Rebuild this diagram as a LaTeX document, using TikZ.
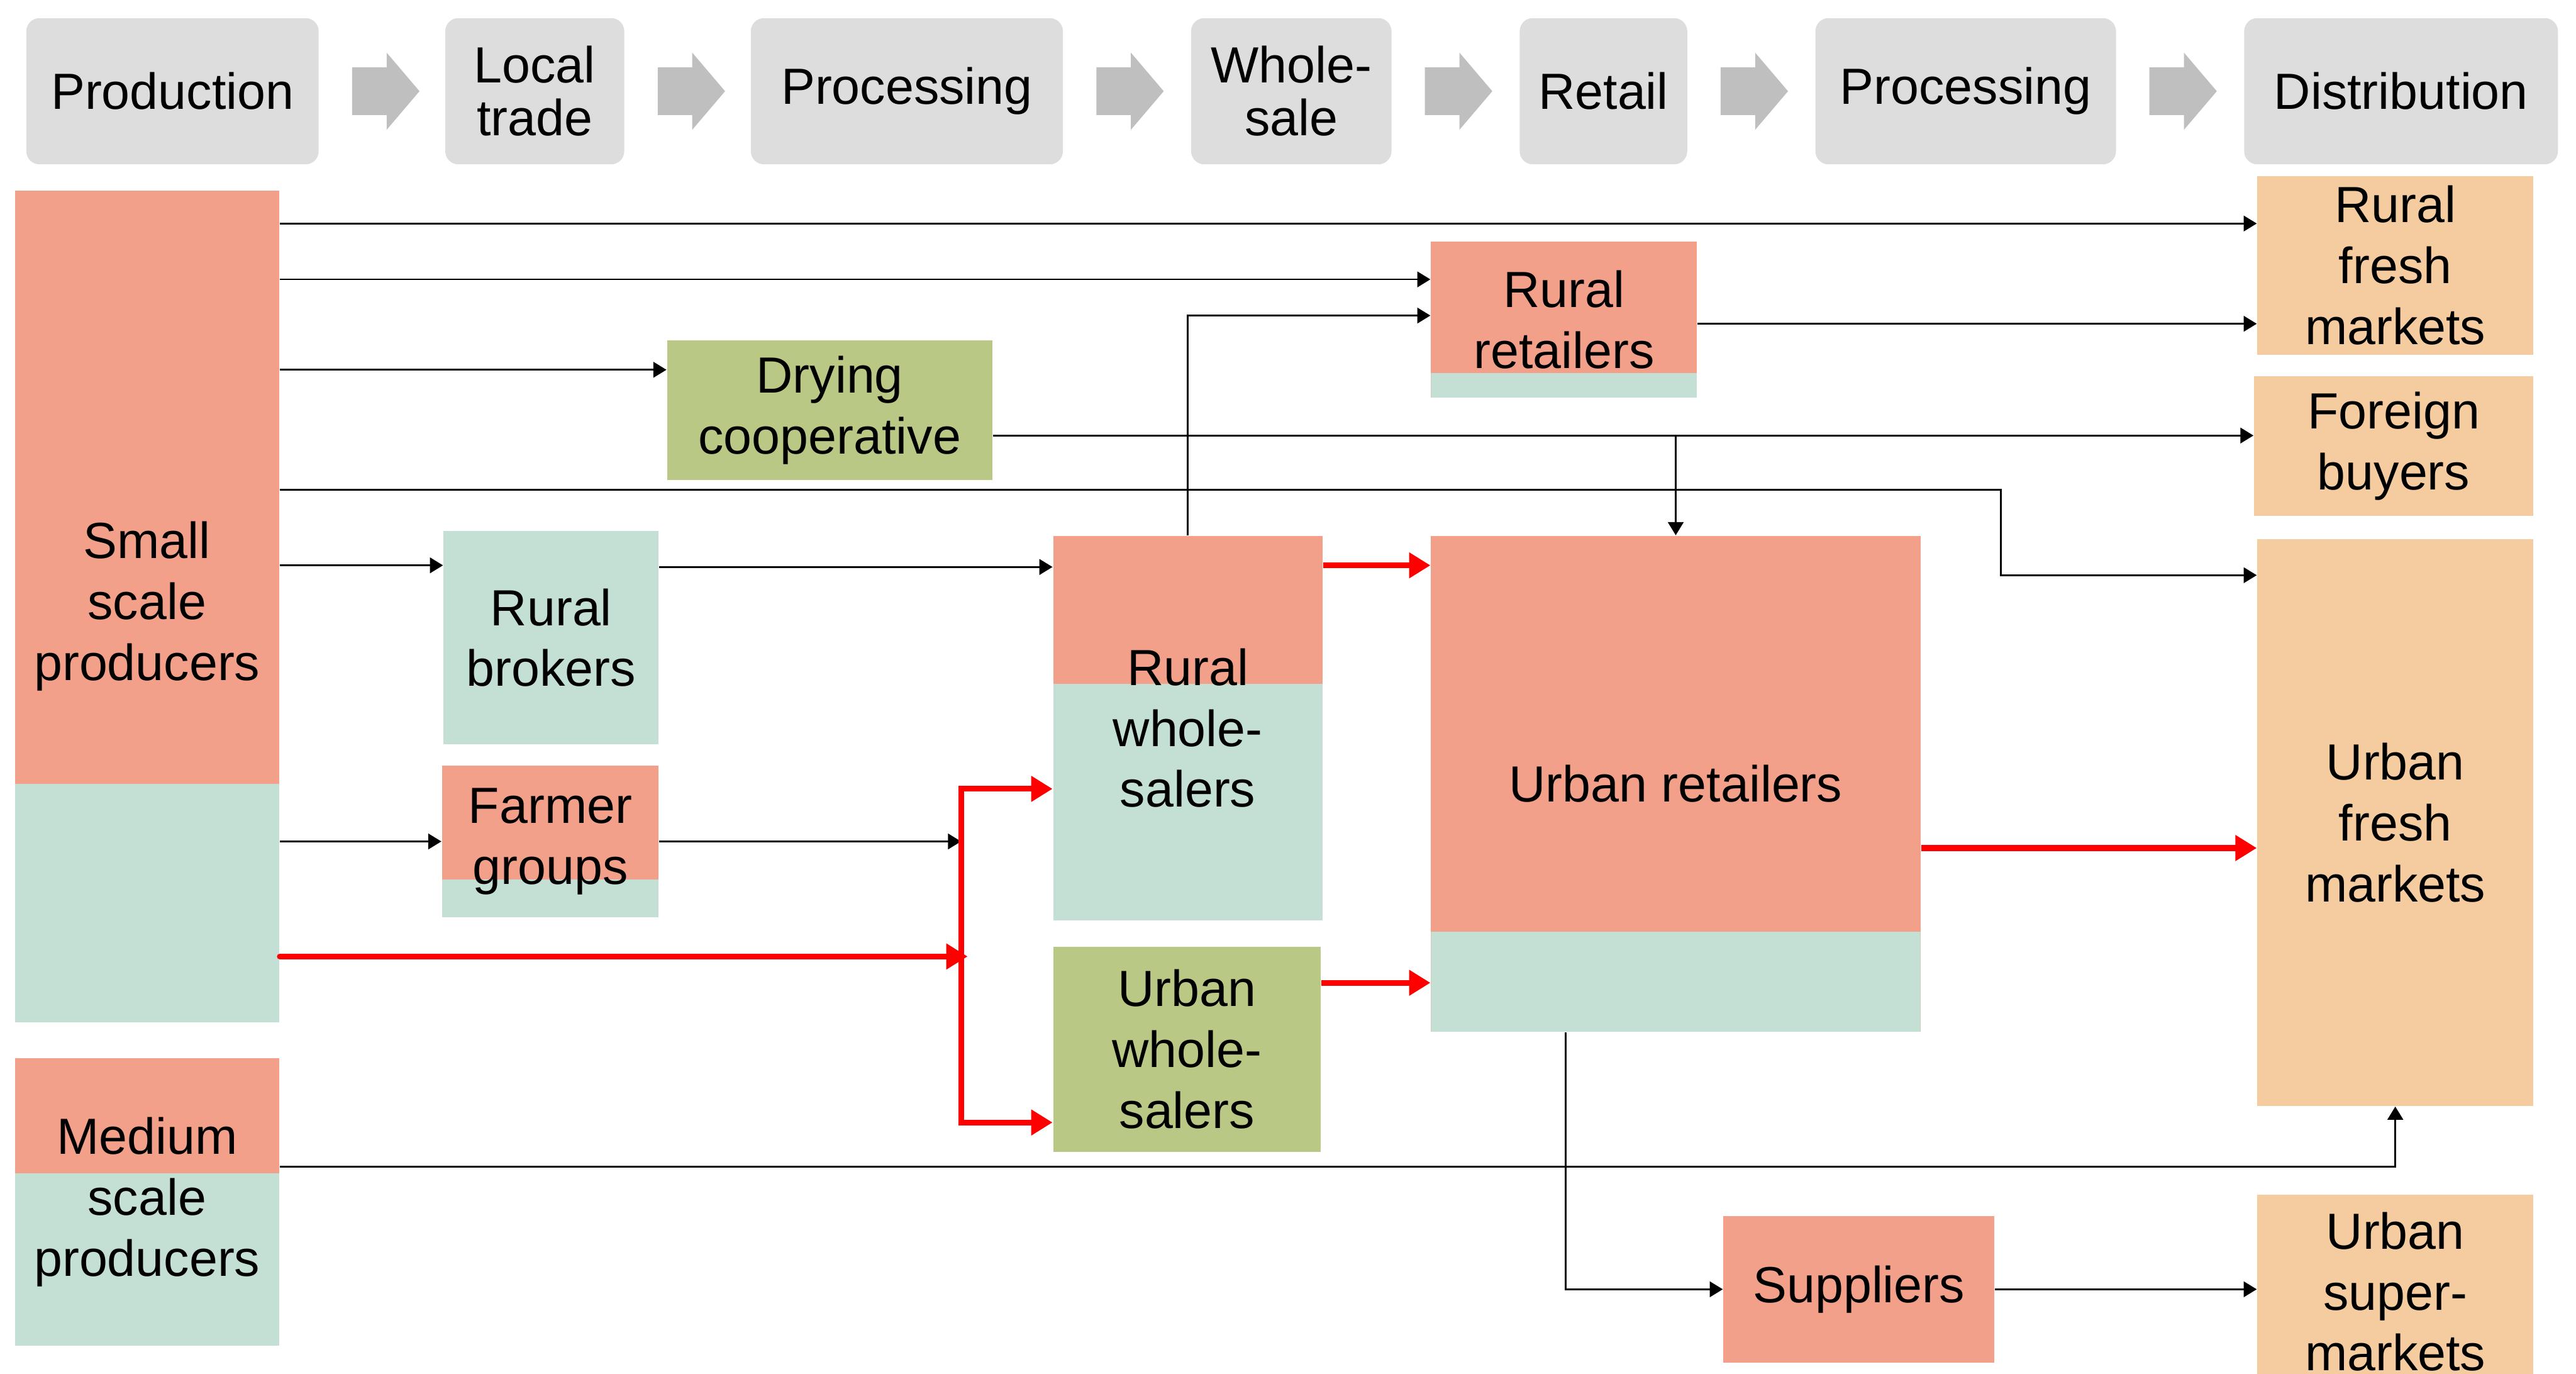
\documentclass[tikz,border=0pt]{standalone}
\usepackage{fontspec}
\setmainfont{Liberation Sans}
\usepackage{xcolor}
\usepackage{tikz}
\usetikzlibrary{calc,arrows.meta}

\definecolor{salmon}{RGB}{242,160,137}
\definecolor{mint}{RGB}{196,223,212}
\definecolor{moss}{RGB}{185,200,132}
\definecolor{peach}{RGB}{245,203,160}
\definecolor{stagegray}{RGB}{221,221,221}
\definecolor{chevron}{RGB}{191,191,191}

\newcommand{\lbl}{\fontsize{17.6pt}{21.1pt}\selectfont}
\newcommand{\stagelbl}{\fontsize{17.6pt}{18.3pt}\selectfont}

\begin{document}
\begin{tikzpicture}[x=0.02cm, y=-0.02cm,
    splitfill/.style={path picture={\fill[mint] (path picture bounding box.south west) rectangle ([yshift=#1]path picture bounding box.south east);}}]
            \tikzstyle{stage} = [fill=stagegray, rounded corners=0.16cm, minimum height=1.78cm, inner sep=0pt, align=center, font=\stagelbl]
            \tikzstyle{actor} = [inner sep=0pt, align=center, font=\lbl]
            \tikzstyle{flow} = [line width=0.6pt, -{Triangle[length=0.16cm, width=0.19cm]}]
            \tikzstyle{mainflow} = [red, line width=2pt, -{Triangle[length=0.26cm, width=0.3cm]}]
            \useasboundingbox (0,0) rectangle (1568,836);

            % stages of the chain
            \node [stage, minimum width=3.56cm] (H1) at (105,55.5) {Production};
            \node [stage, minimum width=2.18cm] (H2) at (325.5,55.5) {Local\\trade};
            \node [stage, minimum width=3.8cm] (H3) at (552,55.5) {Processing};
            \node [stage, minimum width=2.44cm] (H4) at (786,55.5) {Whole-\\sale};
            \node [stage, minimum width=2.04cm] (H5) at (976,55.5) {Retail};
            \node [stage, minimum width=3.66cm] (H6) at (1196.5,55.5) {Processing};
            \node [stage, minimum width=3.82cm] (H7) at (1461.5,55.5) {Distribution};

            \foreach \i in {1, ..., 6}
                \fill [chevron] ($(H\i.east)+(20,-14.5)$) -- ++(21,0) -- ++(0,-9) -- ++(20,23.5) -- ++(-20,23.5) -- ++(0,-9) -- ++(-21,0) -- cycle;

            % actors
            \node [actor, fill=salmon, splitfill=2.9cm, minimum width=3.22cm, minimum height=10.12cm] (Small) at (89.5,369) {Small\\scale\\producers};
            \node [actor, fill=salmon, splitfill=2.1cm, minimum width=3.22cm, minimum height=3.5cm] (Medium) at (89.5,731.5) {Medium\\scale\\producers};
            \node [actor, fill=moss, minimum width=3.96cm, minimum height=1.7cm] (Dry) at (505,249.5) {Drying\\cooperative};
            \node [actor, fill=mint, minimum width=2.62cm, minimum height=2.6cm] (Brok) at (335.5,388) {Rural\\brokers};
            \node [actor, fill=salmon, splitfill=0.46cm, minimum width=2.64cm, minimum height=1.84cm] (Farm) at (335,512) {Farmer\\groups};
            \node [actor, fill=salmon, splitfill=2.88cm, minimum width=3.28cm, minimum height=4.68cm] (RW) at (723,443) {Rural\\whole-\\salers};
            \node [actor, fill=moss, minimum width=3.26cm, minimum height=2.5cm] (UW) at (722.5,638.5) {Urban\\whole-\\salers};
            \node [actor, fill=salmon, splitfill=0.3cm, minimum width=3.24cm, minimum height=1.9cm] (RR) at (952,194.5) {Rural\\retailers};
            \node [actor, fill=salmon, splitfill=1.22cm, minimum width=5.96cm, minimum height=6.04cm] (UR) at (1020,477) {Urban retailers};
            \node [actor, fill=salmon, minimum width=3.3cm, minimum height=1.78cm] (Sup) at (1131.5,784.5) {Suppliers};
            \node [actor, fill=peach, minimum width=3.36cm, minimum height=2.18cm] (RF) at (1458,161.5) {Rural\\fresh\\markets};
            \node [actor, fill=peach, minimum width=3.4cm, minimum height=1.7cm] (FB) at (1457,271.5) {Foreign\\buyers};
            \node [actor, fill=peach, minimum width=3.36cm, minimum height=6.9cm] (UF) at (1458,500.5) {Urban\\fresh\\markets};
            \node [actor, fill=peach, minimum width=3.36cm, minimum height=2.36cm] (US) at (1458,786) {Urban\\super-\\markets};

            \coordinate (BusN) at (585,480);
            \coordinate (BusM) at (589,582);
            \coordinate (BusS) at (585,683);
            \coordinate (Bend) at (1218,350);

            % flows
            \draw [flow] (Small.east |- 0,136) -- (RF.west |- 0,136);
            \draw [flow] (Small.east |- 0,170) -- (RR.west |- 0,170);
            \draw [flow] (Small.east |- 0,225) -- (Dry.west |- 0,225);
            \draw [flow] (Dry.east |- 0,265) -- (FB.west |- 0,265);
            \draw [flow] (UR.north |- 0,265) -- (UR.north);
            \draw [flow] (Small.east |- 0,298) -| (Bend) -- (UF.west |- Bend);
            \draw [flow] (Small.east |- 0,344) -- (Brok.west |- 0,344);
            \draw [flow] (Brok.east |- 0,345) -- (RW.west |- 0,345);
            \draw [flow] (RW.north) |- (RR.west |- 0,192);
            \draw [flow] (RR.east |- 0,197) -- (RF.west |- 0,197);
            \draw [flow] (Small.east |- Farm.west) -- (Farm.west);
            \draw [flow] (Farm.east) -- (BusN |- Farm.east);
            \draw [flow] (Medium.east |- 0,710) -| (UF.south);
            \draw [flow] (UR.south -| 953,0) |- (Sup.west);
            \draw [flow] (Sup.east) -- (US.west |- Sup.east);

            \draw [mainflow, line cap=round] (Small.east |- BusM) -- (BusM);
            \draw [mainflow, {Triangle[length=0.26cm, width=0.3cm]}-{Triangle[length=0.26cm, width=0.3cm]}] (RW.west |- BusN) -- (BusN) -- (BusS) -- (UW.west |- BusS);
            \draw [mainflow] (RW.east |- 0,344) -- (UR.west |- 0,344);
            \draw [mainflow] (UW.east |- 0,598) -- (UR.west |- 0,598);
            \draw [mainflow] (UR.east |- 0,516) -- (UF.west |- 0,516);
\end{tikzpicture}
\end{document}
